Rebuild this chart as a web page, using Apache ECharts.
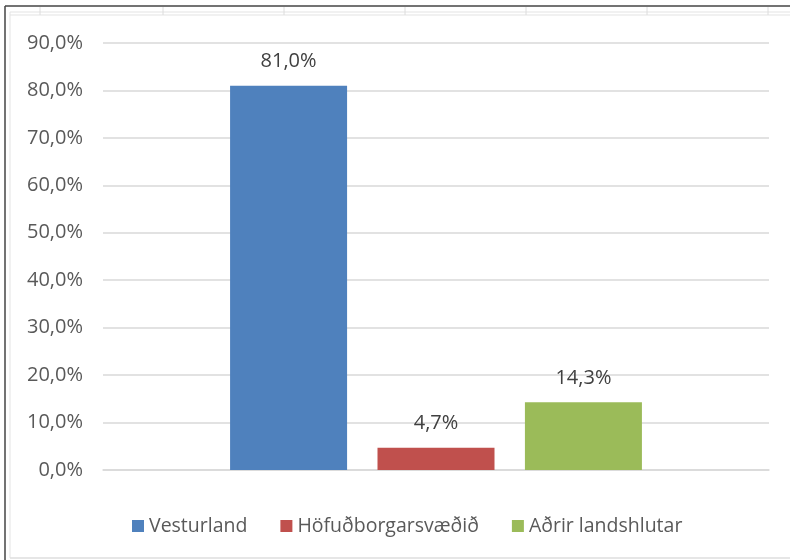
<!DOCTYPE html>
<html>
<head>
<meta charset="utf-8">
<script src="https://cdn.jsdelivr.net/npm/echarts@6/dist/echarts.min.js"></script>
<style>
  html, body { margin: 0; padding: 0; background: #fff; }
  #chart { width: 790px; height: 560px; }
</style>
</head>
<body>
<div id="chart"></div>
<script>
let chartDom = document.getElementById("chart");
let myChart = echarts.init(chartDom);

// data
const categories = [""];
const seriesNames = ["Vesturland", "Höfuðborgarsvæðið", "Aðrir landshlutar"];
const seriesValues = [81.0, 4.7, 14.3];
const seriesColors = ["#4f81bd", "#c0504d", "#9bbb59"];
const sheetCols = [40, 163, 284, 405, 526, 647, 768];

const fmt = (v) => v.toFixed(1).replace(".", ",") + "%";
const FONT = "'Open Sans', 'Noto Sans', sans-serif";

// spreadsheet frame behind the chart
let frame = [
  { type: "line", shape: { x1: 5, y1: 6, x2: 790, y2: 6 }, style: { stroke: "#444", lineWidth: 1.5 } },
  { type: "line", shape: { x1: 5, y1: 6, x2: 5, y2: 560 }, style: { stroke: "#444", lineWidth: 1.5 } },
  { type: "line", shape: { x1: 10, y1: 12, x2: 790, y2: 12 }, style: { stroke: "#e3e3e3", lineWidth: 1 } },
  { type: "line", shape: { x1: 10, y1: 15, x2: 790, y2: 15 }, style: { stroke: "#e3e3e3", lineWidth: 1 } },
  { type: "line", shape: { x1: 10, y1: 12, x2: 10, y2: 558 }, style: { stroke: "#e3e3e3", lineWidth: 1 } },
  { type: "line", shape: { x1: 10, y1: 558, x2: 790, y2: 558 }, style: { stroke: "#dedede", lineWidth: 1.5 } },
];
sheetCols.forEach((x) => {
  frame.push({ type: "line", shape: { x1: x, y1: 7, x2: x, y2: 15 }, style: { stroke: "#dcdcdc", lineWidth: 1 } });
});

let option = {
  animation: false,
  backgroundColor: "#fff",
  textStyle: { fontFamily: FONT },
  graphic: frame,
  grid: { left: 103, right: 21, top: 43, bottom: 90, containLabel: false },
  legend: {
    top: 511,
    left: 127,
    itemWidth: 12,
    itemHeight: 12,
    itemGap: 33,
    icon: "rect",
    textStyle: { fontSize: 19.5, color: "#595959", fontFamily: FONT },
    data: seriesNames,
  },
  xAxis: {
    type: "category",
    data: categories,
    axisLine: { lineStyle: { color: "#d9d9d9", width: 1.5 } },
    axisTick: { show: false },
    axisLabel: { show: false },
  },
  yAxis: {
    type: "value",
    min: 0,
    max: 90,
    interval: 10,
    axisLine: { show: false },
    axisTick: { show: false },
    splitLine: { lineStyle: { color: "#d9d9d9", width: 1.5 } },
    axisLabel: {
      formatter: (v) => fmt(v),
      fontSize: 20,
      color: "#595959",
      margin: 20,
      fontFamily: FONT,
    },
  },
  series: seriesNames.map((name, i) => ({
    type: "bar",
    name: name,
    data: [seriesValues[i]],
    barWidth: 117,
    barGap: "26%",
    itemStyle: { color: seriesColors[i] },
    label: {
      show: true,
      position: "top",
      distance: 14,
      formatter: (p) => fmt(p.value),
      fontSize: 20,
      color: "#404040",
      fontFamily: FONT,
    },
  })),
};

option && myChart.setOption(option);
</script>
</body>
</html>
